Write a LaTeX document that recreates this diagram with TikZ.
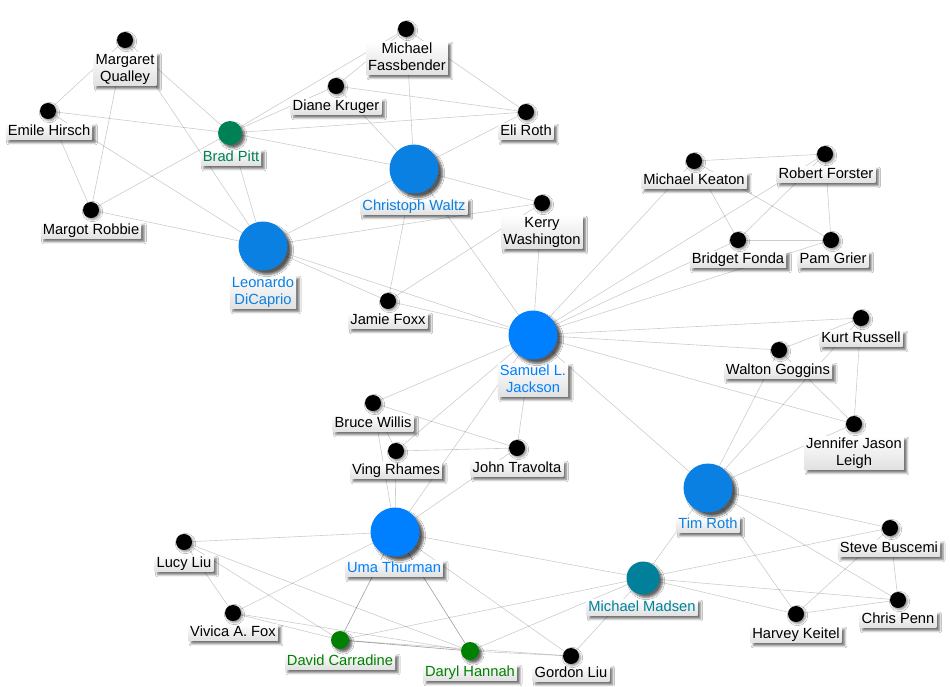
\documentclass[tikz,border=0pt]{standalone}
\usepackage{fontspec}
\setmainfont{Liberation Sans}
\usetikzlibrary{shadows.blur}
\definecolor{bluA}{HTML}{0080FF}
\definecolor{bluB}{HTML}{0A80E2}
\definecolor{grnB}{HTML}{008055}
\definecolor{grnK}{HTML}{008000}
\definecolor{tealM}{HTML}{00809A}
\pgfdeclarelayer{background}
\pgfsetlayers{background,main}
\newcommand{\mst}{\rule[-3.5pt]{0pt}{14.5pt}}
\newcommand{\clq}[5]{%
  \foreach \pa/\pb in {#1/#2,#1/#3,#1/#4,#1/#5,#2/#3,#2/#4,#2/#5,#3/#4,#3/#5,#4/#5}{\draw[edge] (\pa) -- (\pb);}}
\begin{document}
\begin{tikzpicture}[x=1pt,y=-1pt,
  dot/.style={circle,inner sep=0pt,fill=black,minimum size=16pt,
    blur shadow={shadow xshift=1.5pt,shadow yshift=-1.5pt,shadow opacity=45,shadow blur steps=4}},
  bigdot/.style={circle,inner sep=0pt,minimum size=49pt,
    blur shadow={shadow xshift=4pt,shadow yshift=-4pt,shadow opacity=65,shadow blur steps=6}},
  middot/.style={circle,inner sep=0pt,minimum size=#1,
    blur shadow={shadow xshift=3pt,shadow yshift=-3pt,shadow opacity=60,shadow blur steps=5}},
  lab/.style={anchor=north,inner xsep=2pt,inner ysep=1pt,top color=white,bottom color=black!12,
    font=\fontsize{14.7}{17}\selectfont,align=center,
    blur shadow={shadow xshift=3pt,shadow yshift=-3pt,shadow opacity=55,shadow blur steps=4}},
  edge/.style={draw=black,draw opacity=0.2,line width=0.6pt}]
\useasboundingbox (0,0) rectangle (950,686);

% labels
\node[lab] (mqL) at (125,52) {\mst Margaret\\\mst Qualley};
\node[lab] (ehL) at (49,123) {\mst Emile Hirsch};
\node[lab,text=grnB] (bpL) at (231,149) {\mst Brad Pitt};
\node[lab] (mrL) at (91,222) {\mst Margot Robbie};
\node[lab,text=bluB] (ldL) at (263,275) {\mst Leonardo\\\mst DiCaprio};
\node[lab] (mfL) at (407,41) {\mst Michael\\\mst Fassbender};
\node[lab] (dkL) at (336,98) {\mst Diane Kruger};
\node[lab] (erL) at (526,123) {\mst Eli Roth};
\node[lab,text=bluB] (cwL) at (414,198) {\mst Christoph Waltz};
\node[lab] (kwL) at (542,215) {\mst Kerry\\\mst Washington};
\node[lab] (jfL) at (388,312) {\mst Jamie Foxx};
\node[lab,text=bluA] (sjL) at (533,363) {\mst Samuel L.\\\mst Jackson};
\node[lab] (mkL) at (694,172) {\mst Michael Keaton};
\node[lab] (rfL) at (826,166) {\mst Robert Forster};
\node[lab] (bfL) at (738,251) {\mst Bridget Fonda};
\node[lab] (pgL) at (833,251) {\mst Pam Grier};
\node[lab] (krL) at (861,330) {\mst Kurt Russell};
\node[lab] (wgL) at (778,362) {\mst Walton Goggins};
\node[lab] (jlL) at (854,436) {\mst Jennifer Jason\\\mst Leigh};
\node[lab,text=bluB] (trL) at (708,516) {\mst Tim Roth};
\node[lab] (bwL) at (373,415) {\mst Bruce Willis};
\node[lab] (vrL) at (396,462) {\mst Ving Rhames};
\node[lab] (jtL) at (517,460) {\mst John Travolta};
\node[lab,text=bluA] (utL) at (394,560) {\mst Uma Thurman};
\node[lab] (llL) at (184,555) {\mst Lucy Liu};
\node[lab] (vfL) at (233,624) {\mst Vivica A. Fox};
\node[lab,text=grnK] (dcL) at (340,653) {\mst David Carradine};
\node[lab,text=grnK] (dhL) at (470,664) {\mst Daryl Hannah};
\node[lab] (glL) at (571,665) {\mst Gordon Liu};
\node[lab,text=tealM] (mmL) at (642,599) {\mst Michael Madsen};
\node[lab] (sbL) at (889,540) {\mst Steve Buscemi};
\node[lab] (hkL) at (796,626) {\mst Harvey Keitel};
\node[lab] (cpL) at (898,611) {\mst Chris Penn};

% dots
\node[dot] (mq) at (125,40) {};
\node[dot] (eh) at (48,111) {};
\node[middot=24pt,fill=grnB] (bp) at (230,133) {};
\node[dot] (mr) at (91,210) {};
\node[bigdot,fill=bluB] (ld) at (263,246) {};
\node[dot] (mf) at (406,29) {};
\node[dot] (dk) at (336,86) {};
\node[dot] (er) at (526,112) {};
\node[bigdot,fill=bluB] (cw) at (414,169) {};
\node[dot] (kw) at (542,203) {};
\node[dot] (jf) at (388,301) {};
\node[bigdot,fill=bluA] (sj) at (533,335) {};
\node[dot] (mk) at (694,161) {};
\node[dot] (rf) at (825,154) {};
\node[dot] (bf) at (738,240) {};
\node[dot] (pg) at (831,240) {};
\node[dot] (kr) at (861,318) {};
\node[dot] (wg) at (779,350) {};
\node[dot] (jl) at (854,424) {};
\node[bigdot,fill=bluB] (tr) at (708,488) {};
\node[dot] (bw) at (373,403) {};
\node[dot] (vr) at (396,451) {};
\node[dot] (jt) at (517,448) {};
\node[bigdot,fill=bluA] (ut) at (395,532) {};
\node[dot] (ll) at (184,542) {};
\node[dot] (vf) at (233,613) {};
\node[middot=18pt,fill=grnK] (dc) at (340,640) {};
\node[middot=18pt,fill=grnK] (dh) at (470,651) {};
\node[dot] (gl) at (571,656) {};
\node[middot=33pt,fill=tealM] (mm) at (643,578) {};
\node[dot] (sb) at (890,528) {};
\node[dot] (hk) at (796,614) {};
\node[dot] (cp) at (898,600) {};

% edges (one clique per film)
\begin{pgfonlayer}{background}
\fill[white] (0,0) rectangle (950,686);
\clq{ld}{bp}{mr}{eh}{mq}
\clq{bp}{cw}{mf}{dk}{er}
\clq{jf}{cw}{ld}{kw}{sj}
\clq{pg}{sj}{rf}{bf}{mk}
\clq{sj}{kr}{jl}{wg}{tr}
\clq{jt}{ut}{sj}{bw}{vr}
\clq{ut}{ll}{vf}{dh}{dc}
\clq{ut}{dc}{mm}{dh}{gl}
\clq{hk}{tr}{mm}{cp}{sb}
\end{pgfonlayer}
\end{tikzpicture}
\end{document}
